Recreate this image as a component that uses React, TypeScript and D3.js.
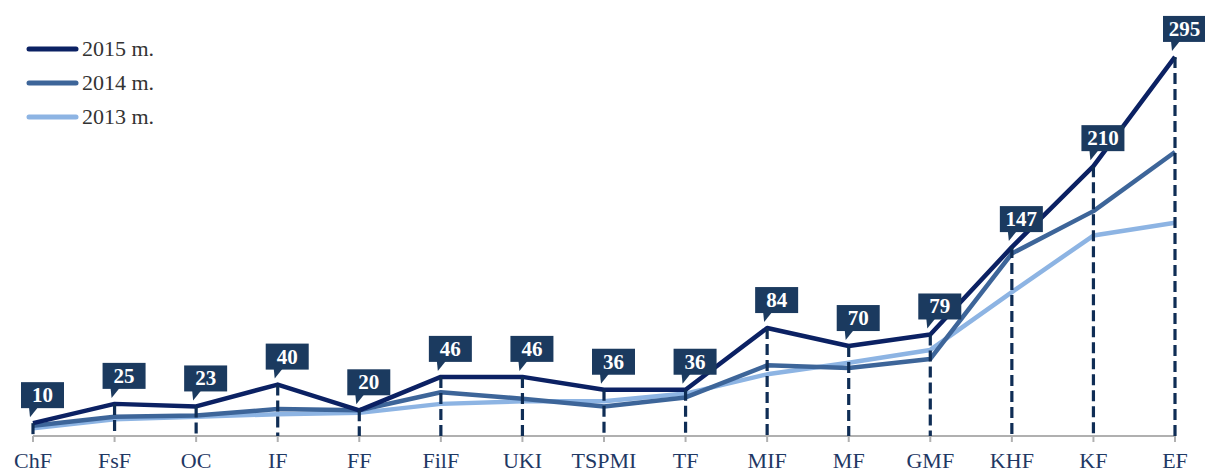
import React from "react";
import * as d3 from "d3";

const categories = ["ChF", "FsF", "OC", "IF", "FF", "FilF", "UKI", "TSPMI", "TF", "MIF", "MF", "GMF", "KHF", "KF", "EF"];
const values2015 = [10, 25, 23, 40, 20, 46, 46, 36, 36, 84, 70, 79, 147, 210, 295];
const values2014 = [8, 15, 16, 21, 20, 34, 29, 23, 30, 55, 53, 60, 142, 175, 221];
const values2013 = [6, 13, 15, 17, 18, 25, 27, 27, 33, 48, 57, 67, 112, 156, 166];

const seriesNames = ["2015 m.", "2014 m.", "2013 m."];
const seriesColors = ["#0b2163", "#3d6599", "#8db4e3"];

const width = 1205;
const height = 473;
const axisY = 436;

export default function App() {
  const x = d3.scalePoint<string>().domain(categories).range([33, 1175]);
  const y = d3.scaleLinear().domain([0, 300]).range([axisY, 50.5]);

  const line = d3
    .line<number>()
    .x((d, i) => x(categories[i]) as number)
    .y((d) => y(d));

  const series = [values2015, values2014, values2013];

  const boxW = 43;
  const boxH = 26;

  return (
    <div style={{ position: "absolute", left: 0, top: 0 }}>
      <svg width={width} height={height} style={{ display: "block", fontFamily: "'Liberation Serif', 'Times New Roman', serif" }}>
        {/* axis */}
        <g className="axis">
          <path d={`M${x(categories[0])} ${axisY} H${x(categories[categories.length - 1])}`} stroke="#b0b0b0" strokeWidth={2} fill="none" />
          {categories.map((c) => (
            <g key={c} transform={`translate(${x(c)},${axisY})`}>
              <path d="M0 0 v6" stroke="#b0b0b0" strokeWidth={2} />
              <text y={32} textAnchor="middle" fontSize={22} fill="#1f3864">
                {c}
              </text>
            </g>
          ))}
        </g>

        {/* series, 2013 at the back */}
        {[2, 1, 0].map((k) => (
          <path key={k} d={line(series[k]) || ""} fill="none" stroke={seriesColors[k]} strokeWidth={4.5} strokeLinejoin="round" />
        ))}

        {/* drop lines */}
        {values2015.map((v, i) => (
          <path
            key={categories[i]}
            d={`M${x(categories[i])} ${y(v)} V${axisY}`}
            stroke="#0f2d55"
            strokeWidth={3.2}
            strokeDasharray="11,5"
            fill="none"
          />
        ))}

        {/* callouts */}
        {values2015.map((v, i) => {
          const px = x(categories[i]) as number;
          const py = y(v);
          const bx = px - 12;
          const bottom = py - 15;
          return (
            <g key={categories[i]}>
              <rect x={bx} y={bottom - boxH} width={boxW} height={boxH} fill="#1b3a5f" />
              <path d={`M${px - 4} ${bottom - 1} L${px + 5} ${bottom - 1} L${px - 3} ${py - 6} Z`} fill="#1b3a5f" />
              <text x={bx + boxW / 2} y={bottom - 6} textAnchor="middle" fontSize={21} fontWeight="bold" fill="#ffffff">
                {v}
              </text>
            </g>
          );
        })}

        {/* legend */}
        {seriesNames.map((name, k) => {
          const ly = 49 + k * 34;
          return (
            <g key={name}>
              <path d={`M29 ${ly} H76`} stroke={seriesColors[k]} strokeWidth={5} strokeLinecap="round" />
              <text x={82} y={ly + 7} fontSize={22} fill="#333333">
                {name}
              </text>
            </g>
          );
        })}
      </svg>
    </div>
  );
}
